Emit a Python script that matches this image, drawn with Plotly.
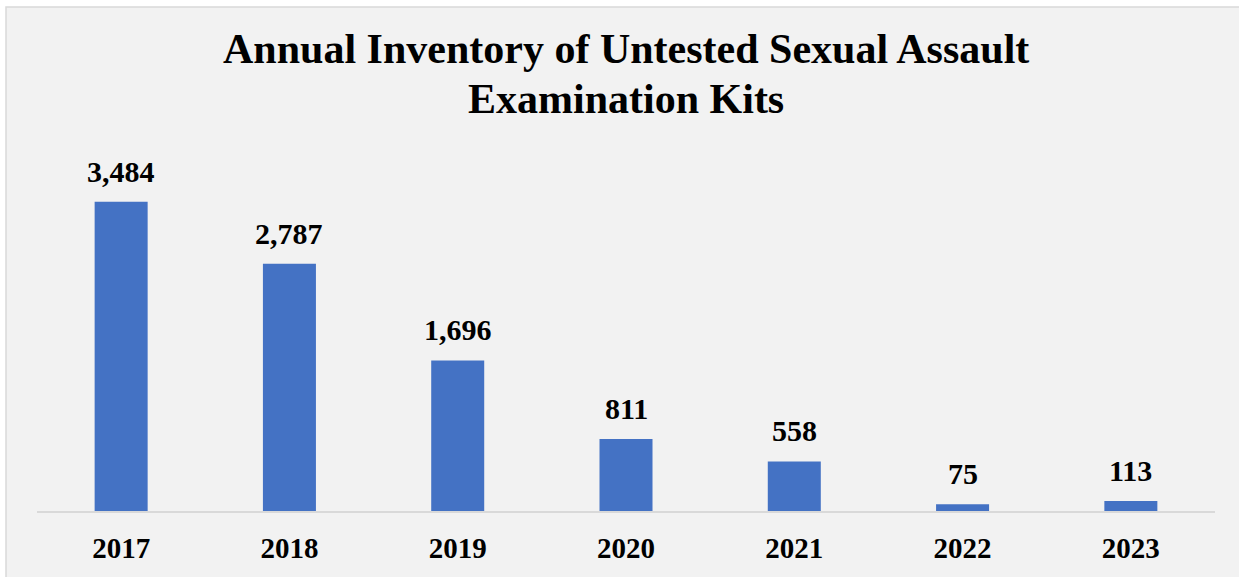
import plotly.graph_objects as go

years = ["2017", "2018", "2019", "2020", "2021", "2022", "2023"]
kits = [3484, 2787, 1696, 811, 558, 75, 113]
title_lines = ["Annual Inventory of Untested Sexual Assault", "Examination Kits"]

FONT = "Liberation Serif"
W, H = 1239, 577
ml, mr, mt, mb = 37, 24, 156, 66
pw = W - ml - mr
ph = H - mt - mb

fig = go.Figure()
fig.add_trace(go.Bar(
    x=years, y=kits,
    marker=dict(color="#4472c4", line=dict(width=0)),
    hoverinfo="x+y",
))

# value labels (category index positions on the category axis)
for i, v in enumerate(kits):
    fig.add_annotation(
        x=i, y=v, text=f"<b>{v:,}</b>", showarrow=False,
        yanchor="bottom", yshift=12,
        font=dict(family=FONT, size=30, color="#000000"),
    )

def py(pix):
    return (H - mb - pix) / ph

def px(pix):
    return (pix - ml) / pw

for line, ypix in zip(title_lines, [49, 99]):
    fig.add_annotation(
        xref="paper", yref="paper", x=px(626), y=py(ypix),
        xanchor="center", yanchor="middle",
        text="<b>" + line + "</b>", showarrow=False,
        font=dict(family=FONT, size=42, color="#000000"),
    )

# chart-area background box
fig.add_shape(type="rect", xref="paper", yref="paper",
              x0=px(6), x1=1.2, y0=-0.5, y1=py(7),
              fillcolor="#f2f2f2", line=dict(color="#d9d9d9", width=1.5),
              layer="below")

fig.update_layout(
    width=W, height=H,
    margin=dict(l=ml, r=mr, t=mt, b=mb),
    paper_bgcolor="#ffffff",
    plot_bgcolor="rgba(0,0,0,0)",
    bargap=0.685,
    showlegend=False,
    xaxis=dict(
        type="category", range=[-0.5, len(years) - 0.5],
        showline=True, linecolor="#d9d9d9", linewidth=1.5,
        ticks="outside", ticklen=10, tickcolor="rgba(0,0,0,0)",
        tickfont=dict(family=FONT, size=29, color="#000000"),
        tickprefix="<b>", ticksuffix="</b>",
        showgrid=False, zeroline=False,
    ),
    yaxis=dict(
        range=[0, 4000], visible=False, showgrid=False, zeroline=False,
    ),
)

fig.write_html("out.html", config={"displayModeBar": False},
               post_script="document.body.style.margin='0px';")
